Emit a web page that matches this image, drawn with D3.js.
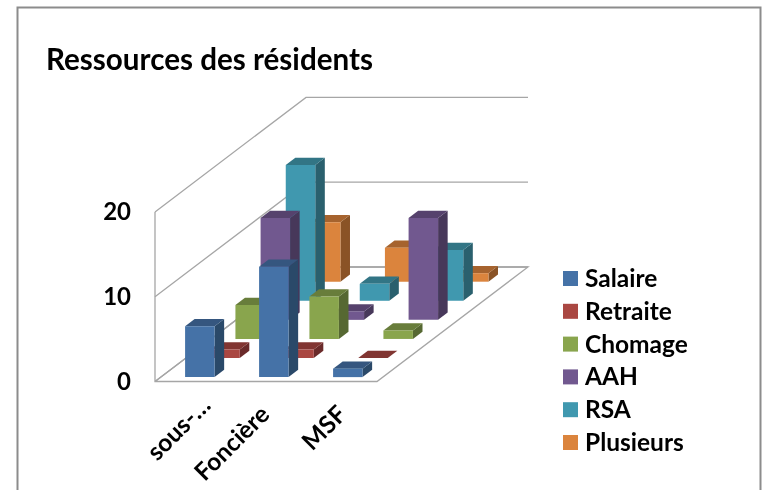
<!DOCTYPE html>
<html><head><meta charset="utf-8">
<style>html,body{margin:0;padding:0;background:#fff}svg{display:block}text{font-family:Lato,"Open Sans",sans-serif;font-weight:700;fill:#000}</style>
<script src="https://cdnjs.cloudflare.com/ajax/libs/d3/7.8.5/d3.min.js"></script>
</head><body><script>
const categories = ["sous-…", "Foncière", "MSF"];
const seriesNames = ["Salaire", "Retraite", "Chomage", "AAH", "RSA", "Plusieurs"];
const salaire = [6, 13, 1];
const retraite = [1, 1, 0];
const chomage = [4, 5, 1];
const aah = [12, 1, 12];
const rsa = [16, 2, 6];
const plusieurs = [7, 4, 1];
const valueTicks = [0, 10, 20];
const colors = ["#4572a7", "#aa4643", "#89a54e", "#71588f", "#4198af", "#db843d"];
const titleText = "Ressources des résidents";

const allSeries = [salaire, retraite, chomage, aah, rsa, plusieurs];
const svg = d3.select("body").append("svg").attr("width", 765).attr("height", 490);
const defs = svg.append("defs");
defs.append("filter").attr("id", "soft").append("feGaussianBlur").attr("stdDeviation", 0.4);
const root = svg.append("g").attr("filter", "url(#soft)");

root.append("path").attr("d", "M17.5,495V7.5H760.5V495").attr("fill", "none").attr("stroke", "#8c8c8c").attr("stroke-width", 2);

// oblique projection
const y0 = 381.5, unit = 8.48;
const wallX = 155, floorR = 377;
const xCat = d3.scaleBand().domain(categories).range([wallX, floorR]);
const yVal = d3.scaleLinear().domain([0, 20]).range([0, -20 * unit]);
const depth = d3.scaleLinear().domain([0, 6]).range([0, 1]);
const DX = 151, DY = -114.5;
const P = (x, v, d) => [x + depth(d) * DX, y0 + yVal(v) + depth(d) * DY];
const line = d3.line();
const shade = (hex, k) => { const c = d3.rgb(hex); return d3.rgb(c.r * k, c.g * k, c.b * k).formatHex(); };

// walls and floor
const grid = root.append("g").attr("fill", "none").attr("stroke", "#a6a6a6").attr("stroke-width", 1.3);
grid.append("path").attr("d", line([P(wallX, 20, 0), P(wallX, 0, 0), P(floorR, 0, 0), P(floorR, 0, 6), P(wallX, 0, 6), P(wallX, 0, 0)]));
valueTicks.forEach(t => {
  grid.append("path").attr("d", line([P(wallX, t, 0), P(wallX, t, 6), P(floorR, t, 6)]));
});

// bars, back to front
const barW = 29.5, sideD = 0.38, inset = 24.3, depthInset = 0.23;
for (let s = seriesNames.length - 1; s >= 0; s--) {
  categories.forEach((c, i) => {
    const v = allSeries[s][i];
    const xl = xCat(c) + inset, xr = xl + barW;
    const d0 = s + depthInset, d1 = d0 + sideD;
    const g = root.append("g");
    g.append("path").attr("fill", shade(colors[s], 0.63)).attr("d", line([P(xr, 0, d0), P(xr, 0, d1), P(xr, v, d1), P(xr, v, d0)]) + "Z");
    g.append("path").attr("fill", shade(colors[s], 0.76)).attr("d", line([P(xl, v, d0), P(xr, v, d0), P(xr, v, d1), P(xl, v, d1)]) + "Z");
    g.append("path").attr("fill", colors[s]).attr("d", line([P(xl, 0, d0), P(xr, 0, d0), P(xr, v, d0), P(xl, v, d0)]) + "Z");
  });
}

// value axis labels
valueTicks.forEach(t => {
  root.append("text").attr("x", 131).attr("y", y0 + yVal(t) + 8.5).attr("text-anchor", "end").attr("font-size", 24).text(t);
});

// category labels (each label's rotated end point, relative to its band)
const labelDx = [57, 42, 45], labelDy = [407, 416, 416];
categories.forEach((c, i) => {
  root.append("text").attr("text-anchor", "end").attr("font-size", 24.5)
    .attr("transform", `translate(${xCat(c) + labelDx[i]},${labelDy[i]}) rotate(-45)`).text(c);
});

// title
root.append("text").attr("x", 46).attr("y", 69.5).attr("font-size", 29.6).text(titleText);

// legend
seriesNames.forEach((n, i) => {
  const y = 271 + i * 32.8;
  root.append("rect").attr("x", 563).attr("y", y).attr("width", 15).attr("height", 15).attr("fill", colors[i]);
  root.append("text").attr("x", 585).attr("y", y + 16).attr("font-size", 24.5).text(n);
});
</script></body></html>
